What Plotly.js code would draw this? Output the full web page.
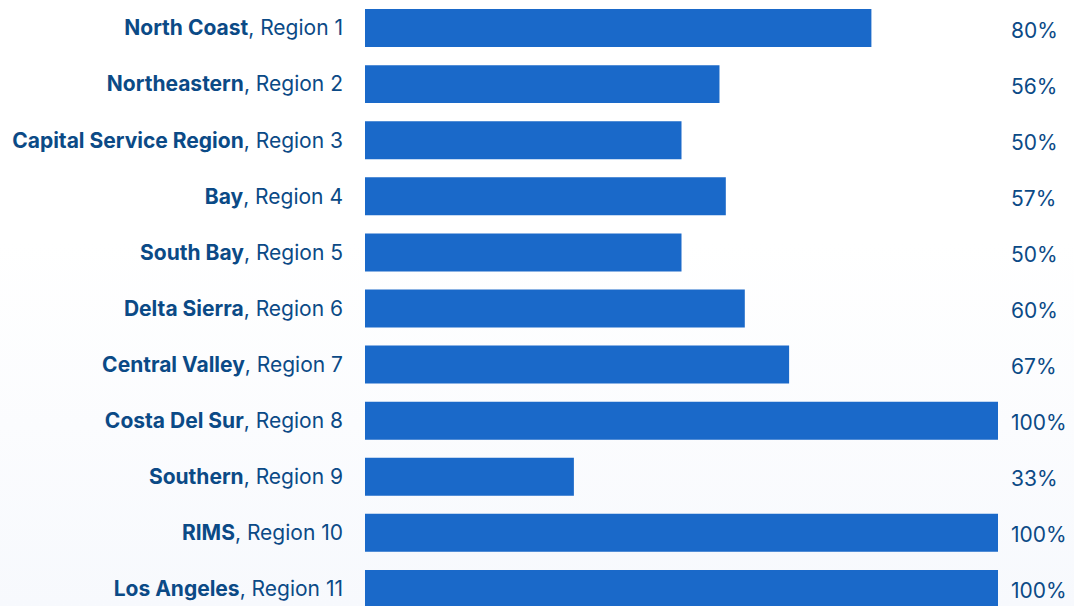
<!DOCTYPE html>
<html>
<head>
<meta charset="utf-8">
<script src="https://cdn.plot.ly/plotly-3.0.1.min.js"></script>
<style>
html,body{margin:0;padding:0;width:1074px;height:606px;overflow:hidden;background:linear-gradient(#ffffff 0%,#ffffff 40%,#f7f9fd 100%);}
#chart{width:1074px;height:606px;}
</style>
</head>
<body>
<div id="chart"></div>
<script>
const regionNames = ["North Coast","Northeastern","Capital Service Region","Bay","South Bay","Delta Sierra","Central Valley","Costa Del Sur","Southern","RIMS","Los Angeles"];
const regionNumbers = ["Region 1","Region 2","Region 3","Region 4","Region 5","Region 6","Region 7","Region 8","Region 9","Region 10","Region 11"];
const percentValues = [80,56,50,57,50,60,67,100,33,100,100];

const barColor = "#1a69c9";
const textColor = "#0b4a86";

const labels = regionNames.map((n,i)=>"<b>"+n+"</b>, "+regionNumbers[i]);

const trace = {
  type:"bar",
  orientation:"h",
  x: percentValues,
  y: labels,
  marker:{color:barColor},
  hoverinfo:"skip"
};

const annotations = percentValues.map((v,i)=>({
  xref:"paper", yref:"y",
  x:1.017, y:labels[i],
  yshift:-2,
  text:v+"%",
  showarrow:false,
  xanchor:"left", yanchor:"middle",
  font:{family:"Inter, Roboto, sans-serif", size:21, color:textColor}
}));

const layout = {
  width:1074, height:606,
  margin:{l:365, r:76, t:0, b:0, pad:0},
  paper_bgcolor:"rgba(0,0,0,0)",
  plot_bgcolor:"rgba(0,0,0,0)",
  bargap:0.323,
  showlegend:false,
  xaxis:{range:[0,100], visible:false, fixedrange:true},
  yaxis:{
    type:"category",
    range:[10.304,-0.5],
    showgrid:false, zeroline:false, showline:false,
    ticks:"", ticklabelstandoff:21,
    tickfont:{family:"Inter, Roboto, sans-serif", size:21, color:textColor}
  },
  annotations:annotations
};

Plotly.newPlot("chart",[trace],layout,{staticPlot:true,displayModeBar:false});
</script>
</body>
</html>
